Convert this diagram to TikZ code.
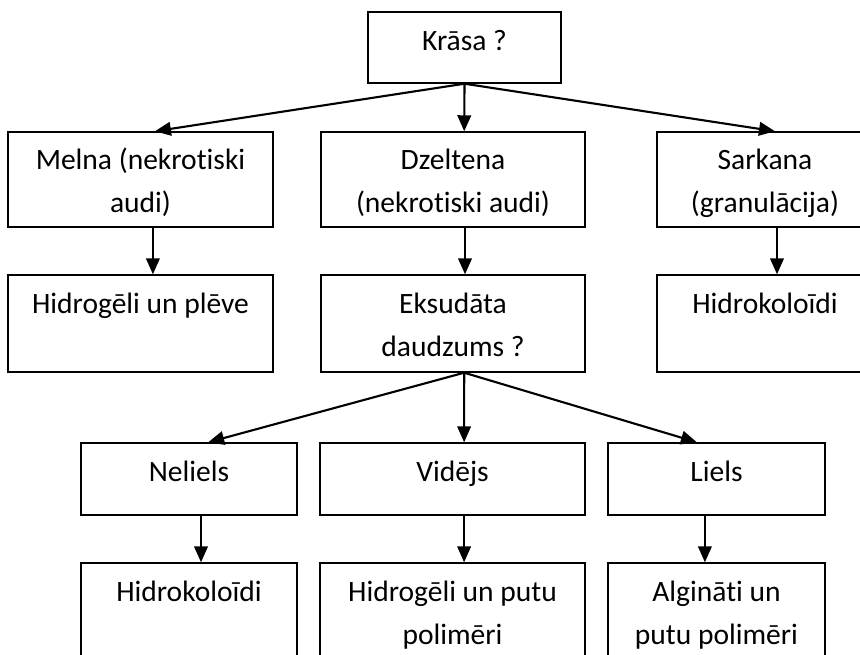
\documentclass[tikz,border=0pt]{standalone}
\usepackage{fontspec}
\setmainfont[Ligatures=NoCommon]{Carlito}
\usetikzlibrary{arrows.meta}
\tikzset{box/.style={shape=rectangle,draw=black,line width=1pt,inner sep=0pt,align=center,
    font=\fontsize{21pt}{30.6pt}\selectfont}}
\tikzset{onerow/.style={text height=10pt,text depth=6.2pt}}
\tikzset{arr/.style={line width=1.5pt,-{Triangle[length=0.4cm,width=0.34cm]}}}
\newcommand{\tworow}[2]{\rule{0pt}{20pt}#1\\#2\rule[-3pt]{0pt}{3pt}}

\begin{document}
\begin{tikzpicture}[x=0.025cm,y=-0.025cm]
    \useasboundingbox (0,0) rectangle (860,655);
    \clip (0,0) rectangle (860,655);

    \node[box,onerow,minimum width=4.825cm,minimum height=1.775cm] (krasa) at (464.5,47.5) {Krāsa ?};

    \node[box,minimum width=6.625cm,minimum height=2.375cm] (melna) at (140.5,179.5) {\tworow{Melna (nekrotiski}{audi)}};
    \node[box,minimum width=6.6cm,minimum height=2.375cm] (dzelt) at (453,179.5) {\tworow{Dzeltena}{(nekrotiski audi)}};
    \node[box,minimum width=5.4cm,minimum height=2.375cm] (sark) at (765,179.5) {\tworow{Sarkana}{(granulācija)}};

    \node[box,minimum width=6.625cm,minimum height=2.425cm] (pleve) at (140.5,323.5) {\tworow{Hidrogēli un plēve}{~}};
    \node[box,minimum width=6.6cm,minimum height=2.425cm] (eksud) at (453,323.5) {\tworow{Eksudāta}{daudzums ?}};
    \node[box,minimum width=5.4cm,minimum height=2.425cm] (hkol) at (765,323.5) {\tworow{Hidrokoloīdi}{~}};

    \node[box,onerow,minimum width=5.4cm,minimum height=1.8cm] (nel) at (189,479) {Neliels};
    \node[box,onerow,minimum width=6.625cm,minimum height=1.8cm] (vid) at (452.5,479) {Vidējs};
    \node[box,onerow,minimum width=5.425cm,minimum height=1.8cm] (liel) at (716.5,479) {Liels};

    \node[box,minimum width=5.4cm,minimum height=2.425cm] (hkol2) at (189,611.5) {\tworow{Hidrokoloīdi}{~}};
    \node[box,minimum width=6.625cm,minimum height=2.425cm] (hpol) at (452.5,611.5) {\tworow{Hidrogēli un putu}{polimēri}};
    \node[box,minimum width=5.425cm,minimum height=2.425cm] (algin) at (716.5,611.5) {\tworow{Algināti un}{putu polimēri}};

    \draw[arr] (krasa.south) -- ([xshift=0.36cm]melna.north);
    \draw[arr] (krasa.south) -- ([xshift=0.28cm]dzelt.north);
    \draw[arr] (krasa.south) -- ([xshift=0.25cm]sark.north);
    \draw[arr] ([xshift=0.31cm]melna.south) -- ([xshift=0.31cm]pleve.north);
    \draw[arr] ([xshift=0.3cm]dzelt.south) -- ([xshift=0.3cm]eksud.north);
    \draw[arr] ([xshift=0.3cm]sark.south) -- ([xshift=0.3cm]hkol.north);
    \draw[arr] ([xshift=0.28cm]eksud.south) -- ([xshift=0.48cm]nel.north);
    \draw[arr] ([xshift=0.28cm]eksud.south) -- ([xshift=0.29cm]vid.north);
    \draw[arr] ([xshift=0.28cm]eksud.south) -- ([xshift=-0.49cm]liel.north);
    \draw[arr] ([xshift=0.3cm]nel.south) -- ([xshift=0.3cm]hkol2.north);
    \draw[arr] ([xshift=0.29cm]vid.south) -- ([xshift=0.29cm]hpol.north);
    \draw[arr] ([xshift=-0.29cm]liel.south) -- ([xshift=-0.29cm]algin.north);
\end{tikzpicture}
\end{document}
